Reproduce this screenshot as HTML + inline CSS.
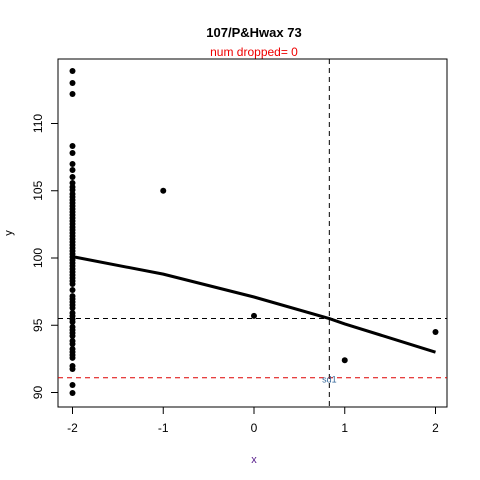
<!DOCTYPE html>
<html><head><meta charset="utf-8"><style>body{margin:0;background:#fff}svg{display:block;font-family:"Liberation Sans",Arial,sans-serif}</style></head>
<body>
<svg id="c" width="480" height="480" viewBox="0 0 480 480">
<rect width="480" height="480" fill="#fff"/>
<text x="254" y="37" text-anchor="middle" font-size="13" font-weight="bold">107/P&amp;Hwax 73</text>
<text x="254" y="56" text-anchor="middle" font-size="12" fill="#e00">num dropped= 0</text>
<rect x="58" y="59" width="389" height="348" fill="none" stroke="#000"/>
<text x="254" y="463" text-anchor="middle" font-size="11" fill="#551a8b">x</text>
<text x="12" y="233" text-anchor="middle" font-size="11" transform="rotate(-90 12 233)">y</text>
<g id="g"></g>
</svg>
<script>
const xTicks=[-2,-1,0,1,2];
const yTicks=[90,95,100,105,110];
const colPy=[71,83,94,146,153,164,170,177,183,187,190,194,197,200,203,206,209,212,215,218,221,224,227,230,233,236,239,242,245,248,251,254,257,260,263,266,269,272,275,278,281,284,290,296,299,302,305,308,313,316,319,322,327,330,333,336,341,344,349,352,355,358,366,369,385,393];
const colY=colPy.map(p=>+(100-(p-258)/13.45).toFixed(2));
const ptX=colY.map(()=>-2).concat([-1,0,1,2]);
const ptY=colY.concat([105.0,95.7,92.4,94.5]);
const curveX=[-2,-1,0,0.83,1,2];
const curveY=[100.1,98.8,97.1,95.5,95.1,93.0];
const vLine=0.83, hLine=95.5, hLine2=91.1;
const sx=v=>254+v*90.75, sy=v=>258-(v-100)*13.45;
const NS="http://www.w3.org/2000/svg", g=document.getElementById('g');
function mk(t,a){const e=document.createElementNS(NS,t);for(const k in a)e.setAttribute(k,a[k]);g.appendChild(e);return e;}
xTicks.forEach(v=>{
 const l=mk('line',{x1:sx(v),x2:sx(v),y1:407,y2:414,stroke:'#000'});
 
 
 const t=mk('text',{x:sx(v),y:432,'text-anchor':'middle','font-size':12});t.textContent=v;
 
 
});
yTicks.forEach(v=>{
 const l=mk('line',{x1:51,x2:58,y1:sy(v),y2:sy(v),stroke:'#000'});
 
 
 const t=mk('text',{x:42,y:sy(v),'text-anchor':'middle','font-size':12,transform:`rotate(-90 42 ${sy(v)})`});t.textContent=v;
 
 
});
let e=mk('line',{x1:sx(vLine),x2:sx(vLine),y1:59,y2:407,stroke:'#000','stroke-dasharray':'5,4'});


e=mk('line',{x1:58,x2:447,y1:sy(hLine),y2:sy(hLine),stroke:'#000','stroke-dasharray':'5,4'});


e=mk('line',{x1:58,x2:447,y1:sy(hLine2),y2:sy(hLine2),stroke:'#d00','stroke-dasharray':'5,4'});


e=mk('text',{x:sx(vLine),y:sy(hLine2)+5,'text-anchor':'middle','font-size':9,fill:'#369'});e.textContent='sd1';


ptX.forEach((x,i)=>{
 const c=mk('circle',{cx:sx(x),cy:sy(ptY[i]),r:3,fill:'#000'});
 
 
});
e=mk('polyline',{points:curveX.map((x,i)=>sx(x)+','+sy(curveY[i])).join(' '),fill:'none',stroke:'#000','stroke-width':3});


</script>
</body></html>
